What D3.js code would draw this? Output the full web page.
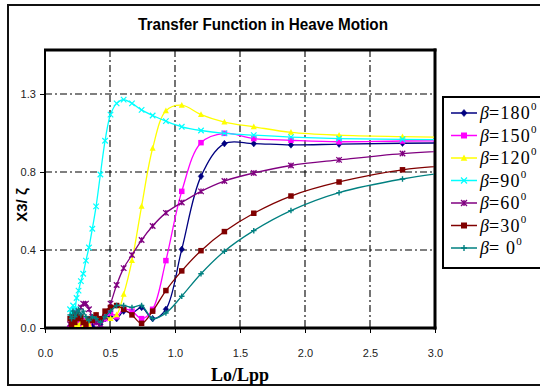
<!DOCTYPE html>
<html>
<head>
<meta charset="utf-8">
<script src="https://cdn.jsdelivr.net/npm/d3@7"></script>
<style>
  body { margin: 0; background: #fff; }
  svg { display: block; }
</style>
</head>
<body>
<svg id="chart" width="540" height="387"></svg>
<script>
// Wave length / ship length at each computed frequency
const lengthRatio = [0.193, 0.204, 0.216, 0.229, 0.243, 0.258, 0.276, 0.294, 0.315, 0.338,
  0.364, 0.393, 0.426, 0.462, 0.504, 0.551, 0.605, 0.669, 0.743, 0.828,
  0.930, 1.052, 1.200, 1.380, 1.606, 1.892, 2.262, 2.750, 3.420];

// Heave RAO for each heading angle
const beta180 = [0.01, 0.00, 0.02, 0.00, 0.01, 0.03, 0.01, 0.02, 0.00, 0.03,
  0.01, 0.04, 0.02, 0.05, 0.06, 0.05, 0.09, 0.08, 0.11, 0.05,
  0.10, 0.42, 0.81, 0.985, 0.985, 0.978, 0.982, 0.987, 0.99];
const beta150 = [0.00, 0.02, 0.00, 0.03, 0.01, 0.03, 0.00, 0.02, 0.04, 0.02,
  0.05, 0.03, 0.04, 0.05, 0.08, 0.06, 0.10, 0.09, 0.05, 0.10,
  0.36, 0.73, 0.99, 1.04, 1.012, 1.003, 0.995, 0.999, 1.00];
const beta120 = [0.00, 0.01, 0.03, 0.00, 0.02, 0.01, 0.03, 0.01, 0.04, 0.02,
  0.05, 0.07, 0.04, 0.06, 0.05, 0.07, 0.18, 0.36, 0.65, 0.96,
  1.16, 1.19, 1.14, 1.10, 1.075, 1.045, 1.03, 1.022, 1.015];
const beta90 = [0.10, 0.08, 0.12, 0.10, 0.16, 0.20, 0.25, 0.29, 0.36, 0.43,
  0.53, 0.65, 0.82, 1.00, 1.14, 1.20, 1.22, 1.20, 1.165, 1.135,
  1.105, 1.075, 1.055, 1.04, 1.03, 1.02, 1.012, 1.008, 1.005];
const beta60 = [0.02, 0.05, 0.04, 0.08, 0.06, 0.09, 0.11, 0.13, 0.13, 0.10,
  0.06, 0.03, 0.02, 0.06, 0.13, 0.23, 0.32, 0.39, 0.47, 0.545,
  0.615, 0.67, 0.73, 0.785, 0.828, 0.868, 0.898, 0.932, 0.955];
const beta30 = [0.05, 0.02, 0.06, 0.03, 0.07, 0.05, 0.06, 0.03, 0.02, 0.05,
  0.04, 0.07, 0.05, 0.09, 0.11, 0.12, 0.10, 0.07, 0.025, 0.09,
  0.20, 0.305, 0.413, 0.515, 0.613, 0.705, 0.78, 0.845, 0.88];
const beta0 = [0.07, 0.05, 0.09, 0.06, 0.08, 0.10, 0.07, 0.09, 0.06, 0.04,
  0.06, 0.05, 0.03, 0.06, 0.09, 0.12, 0.12, 0.11, 0.12, 0.05,
  0.08, 0.17, 0.29, 0.41, 0.52, 0.627, 0.723, 0.796, 0.86];

const seriesNames = ["180", "150", "120", "90", "60", "30", " 0"];
const seriesValues = [beta180, beta150, beta120, beta90, beta60, beta30, beta0];
const seriesColors = ["#000080", "#FF00FF", "#FFFF00", "#00FFFF", "#800080", "#800000", "#008080"];
const seriesMarkers = ["diamond", "square", "triangle", "x", "star", "square", "plus"];

const xTickValues = [0, 0.5, 1.0, 1.5, 2.0, 2.5, 3.0];
const xTickLabels = ["0.0", "0.5", "1.0", "1.5", "2.0", "2.5", "3.0"];
const yTickValues = [0, 1.25 / 3, 2.5 / 3, 1.25];
const yTickLabels = ["0.0", "0.4", "0.8", "1.3"];

const svg = d3.select("#chart");
const plot = { left: 45, right: 435, top: 50, bottom: 328 };

const x = d3.scaleLinear().domain([0, 3]).range([plot.left, plot.right]);
const y = d3.scaleLinear().domain([0, 1.485]).range([plot.bottom, plot.top]);

// outer chart frame (right side runs off the page)
svg.append("rect")
  .attr("x", 8).attr("y", 5).attr("width", 620).attr("height", 380)
  .attr("fill", "#fff").attr("stroke", "#111").attr("stroke-width", 2);

// title
svg.append("text")
  .attr("x", 263).attr("y", 30)
  .attr("text-anchor", "middle")
  .attr("font-family", "'Liberation Sans Narrow', 'Arial Narrow', 'Liberation Sans', sans-serif")
  .attr("font-weight", "bold").attr("font-size", 16)
  .attr("textLength", 250).attr("lengthAdjust", "spacingAndGlyphs")
  .text("Transfer Function in Heave Motion");

// grid lines
const dash = "7,3,2,3";
svg.append("g").selectAll("line")
  .data(yTickValues.slice(1))
  .join("line")
  .attr("x1", plot.left).attr("x2", plot.right)
  .attr("y1", d => y(d)).attr("y2", d => y(d))
  .attr("stroke", "#000").attr("stroke-width", 1.1).attr("stroke-dasharray", dash);
svg.append("g").selectAll("line")
  .data(xTickValues.slice(1, -1))
  .join("line")
  .attr("y1", plot.top).attr("y2", plot.bottom)
  .attr("x1", d => x(d)).attr("x2", d => x(d))
  .attr("stroke", "#000").attr("stroke-width", 1.1).attr("stroke-dasharray", dash);

// axes
const xAxis = d3.axisBottom(x).tickValues(xTickValues)
  .tickFormat((d, i) => xTickLabels[i]).tickSize(5).tickSizeOuter(0);
const yAxis = d3.axisLeft(y).tickValues(yTickValues)
  .tickFormat((d, i) => yTickLabels[i]).tickSize(5).tickSizeOuter(0);

const gx = svg.append("g").attr("transform", `translate(0,${plot.bottom})`).call(xAxis);
const gy = svg.append("g").attr("transform", `translate(${plot.left},0)`).call(yAxis);
[gx, gy].forEach(g => {
  g.select(".domain").remove();
  g.selectAll(".tick line").attr("stroke", "#000").attr("stroke-width", 1);
  g.selectAll(".tick text")
    .attr("font-family", "'Liberation Sans', Arial, sans-serif")
    .attr("font-size", 11).attr("fill", "#222");
});
gx.selectAll(".tick text").attr("dy", "1.9em");
gy.selectAll(".tick text").attr("dx", "-0.1em");

// plot border
svg.append("line").attr("x1", plot.left).attr("x2", plot.left)
  .attr("y1", plot.top - 1).attr("y2", plot.bottom + 1)
  .attr("stroke", "#000").attr("stroke-width", 2);
svg.append("line").attr("x1", plot.left - 1).attr("x2", plot.right + 1.5)
  .attr("y1", plot.bottom).attr("y2", plot.bottom)
  .attr("stroke", "#000").attr("stroke-width", 3);
svg.append("line").attr("x1", plot.left - 1).attr("x2", plot.right + 1.5)
  .attr("y1", plot.top).attr("y2", plot.top)
  .attr("stroke", "#000").attr("stroke-width", 3);
svg.append("line").attr("x1", plot.right).attr("x2", plot.right)
  .attr("y1", plot.top - 1.5).attr("y2", plot.bottom + 1.5)
  .attr("stroke", "#000").attr("stroke-width", 3);

// axis titles
svg.append("text")
  .attr("transform", "translate(27,205) rotate(-90)")
  .attr("text-anchor", "middle")
  .attr("font-family", "'Liberation Sans', Arial, sans-serif")
  .attr("font-weight", "bold").attr("font-size", 15)
  .text("X3/ ζ");
svg.append("text")
  .attr("x", 240).attr("y", 381)
  .attr("text-anchor", "middle")
  .attr("font-family", "'Liberation Serif', 'Times New Roman', serif")
  .attr("font-weight", "bold").attr("font-size", 18)
  .attr("textLength", 58).attr("lengthAdjust", "spacingAndGlyphs")
  .text("Lo/Lpp");

// marker drawing
function drawMarker(g, type, color, size) {
  const s = size;
  switch (type) {
    case "diamond":
      g.append("path").attr("d", `M0,${-s * 0.6}L${s * 0.5},0L0,${s * 0.6}L${-s * 0.5},0Z`)
        .attr("fill", color).attr("stroke", color).attr("stroke-width", 0.5);
      break;
    case "square":
      g.append("rect").attr("x", -s / 2).attr("y", -s / 2).attr("width", s).attr("height", s)
        .attr("fill", color);
      break;
    case "triangle":
      g.append("path").attr("d", `M0,${-s * 0.6}L${s * 0.55},${s * 0.45}L${-s * 0.55},${s * 0.45}Z`)
        .attr("fill", color);
      break;
    case "x":
      g.append("path").attr("d", `M${-s / 2},${-s / 2}L${s / 2},${s / 2}M${-s / 2},${s / 2}L${s / 2},${-s / 2}`)
        .attr("stroke", color).attr("stroke-width", 1.2).attr("fill", "none");
      break;
    case "star":
      g.append("path").attr("d", `M${-s / 2},${-s / 2}L${s / 2},${s / 2}M${-s / 2},${s / 2}L${s / 2},${-s / 2}M0,${-s / 2}L0,${s / 2}`)
        .attr("stroke", color).attr("stroke-width", 1.3).attr("fill", "none");
      break;
    case "plus":
      g.append("path").attr("d", `M${-s / 2},0L${s / 2},0M0,${-s / 2}L0,${s / 2}`)
        .attr("stroke", color).attr("stroke-width", 1.4).attr("fill", "none");
      break;
  }
}

// series
svg.append("clipPath").attr("id", "plotClip")
  .append("rect").attr("x", plot.left + 1).attr("y", plot.top + 1)
  .attr("width", plot.right - plot.left - 2).attr("height", plot.bottom - plot.top - 2);

const line = d3.line()
  .x(d => x(d[0])).y(d => y(d[1]))
  .curve(d3.curveCatmullRom.alpha(0.5));

const seriesG = svg.append("g").attr("clip-path", "url(#plotClip)");
seriesValues.forEach((vals, si) => {
  const pts = lengthRatio.map((lr, i) => [lr, vals[i]]);
  const color = seriesColors[si];
  seriesG.append("path").datum(pts)
    .attr("d", line).attr("fill", "none")
    .attr("stroke", color).attr("stroke-width", 1.3);
  pts.filter(p => p[0] <= 3).forEach(p => {
    const m = seriesG.append("g").attr("transform", `translate(${x(p[0])},${y(p[1])})`);
    drawMarker(m, seriesMarkers[si], color, 5.5);
  });
});

// legend
const legend = svg.append("g");
legend.append("rect")
  .attr("x", 443).attr("y", 97).attr("width", 140).attr("height", 171)
  .attr("fill", "#fff").attr("stroke", "#000").attr("stroke-width", 2);
seriesNames.forEach((name, i) => {
  const ry = 113 + i * 22.5;
  const color = seriesColors[i];
  legend.append("line").attr("x1", 451).attr("x2", 477).attr("y1", ry).attr("y2", ry)
    .attr("stroke", color).attr("stroke-width", 1.5);
  const m = legend.append("g").attr("transform", `translate(464,${ry})`);
  drawMarker(m, seriesMarkers[i], color, 6);
  const t = legend.append("text")
    .attr("x", 480).attr("y", ry + 6)
    .attr("font-family", "'Liberation Serif', 'Times New Roman', serif")
    .attr("font-size", 18).attr("fill", "#000");
  t.append("tspan").attr("font-style", "italic").text("β");
  t.append("tspan").attr("letter-spacing", 1.2).text("=" + name);
  t.append("tspan").attr("font-size", 11).attr("dy", -9).text("0");
});
</script>
</body>
</html>
